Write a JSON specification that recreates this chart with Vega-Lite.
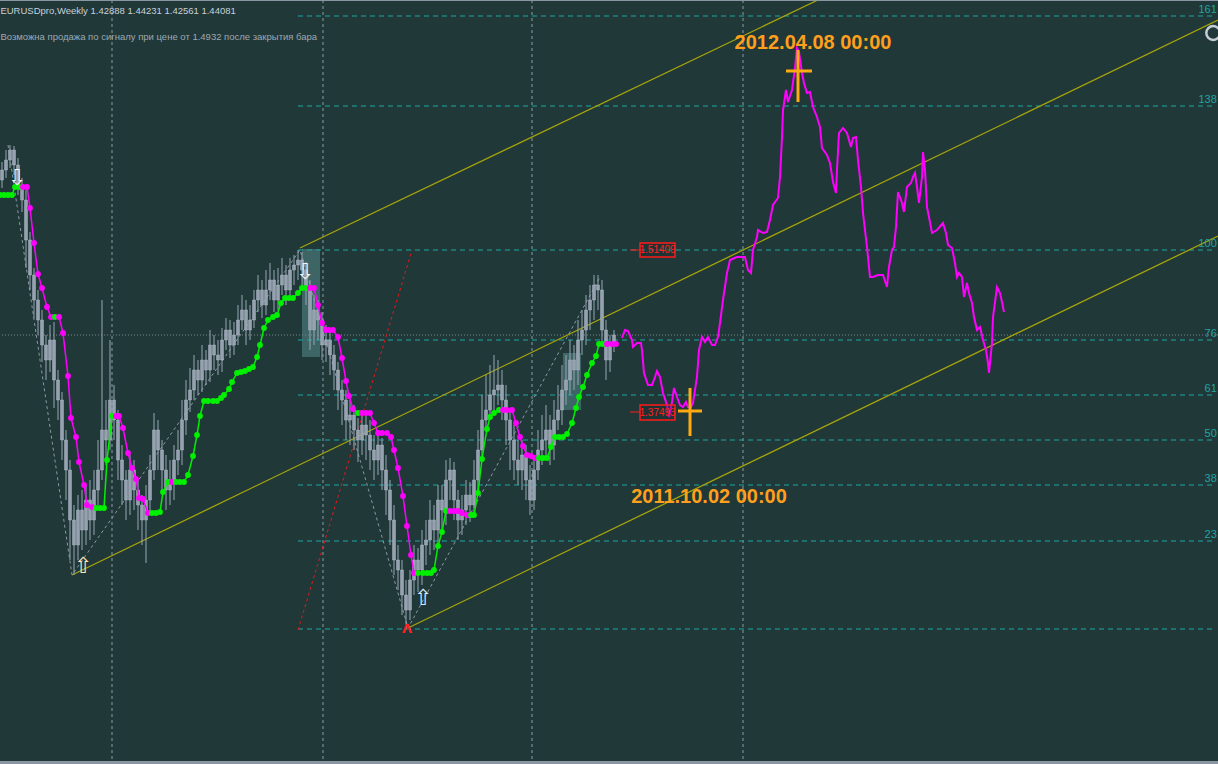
{
"$schema": "https://vega.github.io/schema/vega-lite/v6.json",
"width": 1218, "height": 764,
"autosize": {"type": "none"},
"padding": 0,
"background": "#203838",
"config": {"view": {"stroke": null}, "font": "Liberation Sans", "scale": {"continuousPadding": 0}},
"resolve": {"scale": {"color": "independent"}},
"datasets": {
"ind": [
{"w":0,"p":1.605,"t":"g","s":1},{"w":1,"p":1.605,"t":"g","s":1},{"w":2,"p":1.605,"t":"g","s":1},{"w":3,"p":1.605,"t":"g","s":1},{"w":3.75,"p":1.613,"t":"g","s":1},{"w":4.75,"p":1.613,"t":"g","s":1},
{"w":4.75,"p":1.613,"t":"m","s":2,"d":1},{"w":5.75,"p":1.613,"t":"m","s":2},{"w":6.75,"p":1.613,"t":"m","s":2},{"w":7.5,"p":1.592,"t":"m","s":2},{"w":8.5,"p":1.557,"t":"m","s":2},{"w":9.5,"p":1.526,"t":"m","s":2},{"w":10.5,"p":1.512,"t":"m","s":2},{"w":11.75,"p":1.493,"t":"m","s":2},{"w":12.75,"p":1.483,"t":"m","s":2},
{"w":12.75,"p":1.483,"t":"g","s":3,"d":1},{"w":13.75,"p":1.483,"t":"g","s":3},
{"w":13.75,"p":1.483,"t":"m","s":4,"d":1},{"w":14.75,"p":1.483,"t":"m","s":4},{"w":15.75,"p":1.467,"t":"m","s":4},{"w":17,"p":1.424,"t":"m","s":4},{"w":17.75,"p":1.382,"t":"m","s":4},{"w":19,"p":1.363,"t":"m","s":4},{"w":19.75,"p":1.338,"t":"m","s":4},{"w":21,"p":1.315,"t":"m","s":4},{"w":21.75,"p":1.295,"t":"m","s":4},{"w":23,"p":1.293,"t":"m","s":4},
{"w":23,"p":1.293,"t":"g","s":5,"d":1},{"w":24,"p":1.292,"t":"g","s":5},{"w":25,"p":1.292,"t":"g","s":5},{"w":26,"p":1.292,"t":"g","s":5},{"w":26.75,"p":1.34,"t":"g","s":5},{"w":28,"p":1.384,"t":"g","s":5},
{"w":28,"p":1.384,"t":"m","s":6,"d":1},{"w":29,"p":1.384,"t":"m","s":6},{"w":29.75,"p":1.384,"t":"m","s":6},{"w":30.75,"p":1.372,"t":"m","s":6},{"w":32,"p":1.347,"t":"m","s":6},{"w":33,"p":1.332,"t":"m","s":6},{"w":34,"p":1.321,"t":"m","s":6},{"w":34.75,"p":1.302,"t":"m","s":6},{"w":35.75,"p":1.301,"t":"m","s":6},{"w":37,"p":1.287,"t":"m","s":6},
{"w":37,"p":1.287,"t":"g","s":7,"d":1},{"w":38,"p":1.287,"t":"g","s":7},{"w":39,"p":1.287,"t":"g","s":7},{"w":40,"p":1.288,"t":"g","s":7},{"w":40.75,"p":1.308,"t":"g","s":7},{"w":42,"p":1.318,"t":"g","s":7},
{"w":42,"p":1.318,"t":"m","s":8,"d":1},{"w":43,"p":1.318,"t":"m","s":8},
{"w":43,"p":1.318,"t":"g","s":9,"d":1},{"w":44,"p":1.318,"t":"g","s":9},{"w":45,"p":1.318,"t":"g","s":9},{"w":46,"p":1.318,"t":"g","s":9},{"w":47,"p":1.325,"t":"g","s":9},{"w":48.25,"p":1.344,"t":"g","s":9},{"w":49.25,"p":1.365,"t":"g","s":9},{"w":50,"p":1.384,"t":"g","s":9},{"w":51,"p":1.399,"t":"g","s":9},{"w":52,"p":1.399,"t":"g","s":9},{"w":53.25,"p":1.399,"t":"g","s":9},{"w":54.25,"p":1.399,"t":"g","s":9},{"w":55.25,"p":1.402,"t":"g","s":9},{"w":56,"p":1.405,"t":"g","s":9},{"w":57.25,"p":1.411,"t":"g","s":9},{"w":58,"p":1.418,"t":"g","s":9},{"w":59.25,"p":1.427,"t":"g","s":9},{"w":60.25,"p":1.428,"t":"g","s":9},{"w":61.25,"p":1.429,"t":"g","s":9},{"w":62.25,"p":1.431,"t":"g","s":9},{"w":63.25,"p":1.433,"t":"g","s":9},{"w":64.25,"p":1.443,"t":"g","s":9},{"w":65,"p":1.455,"t":"g","s":9},{"w":66,"p":1.472,"t":"g","s":9},{"w":67,"p":1.48,"t":"g","s":9},{"w":68.25,"p":1.483,"t":"g","s":9},{"w":69.25,"p":1.485,"t":"g","s":9},{"w":70.25,"p":1.497,"t":"g","s":9},{"w":71.25,"p":1.502,"t":"g","s":9},{"w":72.25,"p":1.502,"t":"g","s":9},{"w":73.25,"p":1.502,"t":"g","s":9},{"w":74.5,"p":1.507,"t":"g","s":9},{"w":75.5,"p":1.512,"t":"g","s":9},{"w":76.5,"p":1.512,"t":"g","s":9},
{"w":76.5,"p":1.512,"t":"m","s":10,"d":1},{"w":77.5,"p":1.512,"t":"m","s":10},{"w":78.5,"p":1.512,"t":"m","s":10},{"w":79.5,"p":1.495,"t":"m","s":10},{"w":80.5,"p":1.477,"t":"m","s":10},{"w":81.5,"p":1.47,"t":"m","s":10},{"w":82.25,"p":1.47,"t":"m","s":10},{"w":83.25,"p":1.47,"t":"m","s":10},{"w":84.5,"p":1.463,"t":"m","s":10},{"w":85.5,"p":1.442,"t":"m","s":10},{"w":86.5,"p":1.419,"t":"m","s":10},{"w":87.25,"p":1.404,"t":"m","s":10},{"w":88.25,"p":1.391,"t":"m","s":10},
{"w":88.25,"p":1.391,"t":"g","s":11,"d":1},{"w":89.5,"p":1.387,"t":"g","s":11},
{"w":89.5,"p":1.387,"t":"m","s":12,"d":1},{"w":90.5,"p":1.387,"t":"m","s":12},{"w":91.5,"p":1.387,"t":"m","s":12},{"w":92.5,"p":1.387,"t":"m","s":12},{"w":93.5,"p":1.377,"t":"m","s":12},{"w":94.5,"p":1.367,"t":"m","s":12},{"w":95.5,"p":1.367,"t":"m","s":12},{"w":96.75,"p":1.367,"t":"m","s":12},{"w":97.75,"p":1.363,"t":"m","s":12},{"w":98.5,"p":1.35,"t":"m","s":12},{"w":99.5,"p":1.332,"t":"m","s":12},{"w":100.75,"p":1.304,"t":"m","s":12},{"w":101.75,"p":1.274,"t":"m","s":12},{"w":102.75,"p":1.245,"t":"m","s":12},{"w":103.5,"p":1.227,"t":"m","s":12},
{"w":103.5,"p":1.227,"t":"g","s":13,"d":1},{"w":104.5,"p":1.227,"t":"g","s":13},{"w":105.75,"p":1.227,"t":"g","s":13},{"w":106.75,"p":1.227,"t":"g","s":13},{"w":107.75,"p":1.227,"t":"g","s":13},{"w":108.5,"p":1.23,"t":"g","s":13},{"w":109.5,"p":1.254,"t":"g","s":13},{"w":110.5,"p":1.268,"t":"g","s":13},{"w":111.5,"p":1.289,"t":"g","s":13},
{"w":111.5,"p":1.289,"t":"m","s":14,"d":1},{"w":112.5,"p":1.289,"t":"m","s":14},{"w":113.5,"p":1.289,"t":"m","s":14},{"w":114.5,"p":1.289,"t":"m","s":14},{"w":115.5,"p":1.287,"t":"m","s":14},{"w":116.75,"p":1.285,"t":"m","s":14},
{"w":116.75,"p":1.285,"t":"g","s":15,"d":1},{"w":117.75,"p":1.285,"t":"g","s":15},{"w":118.5,"p":1.285,"t":"g","s":15},{"w":119.5,"p":1.307,"t":"g","s":15},{"w":120.5,"p":1.341,"t":"g","s":15},{"w":121.75,"p":1.371,"t":"g","s":15},{"w":122.5,"p":1.383,"t":"g","s":15},{"w":123.5,"p":1.387,"t":"g","s":15},{"w":124.75,"p":1.39,"t":"g","s":15},
{"w":124.75,"p":1.39,"t":"m","s":16,"d":1},{"w":125.75,"p":1.39,"t":"m","s":16},{"w":126.75,"p":1.39,"t":"m","s":16},{"w":128,"p":1.39,"t":"m","s":16},{"w":129,"p":1.377,"t":"m","s":16},{"w":130,"p":1.363,"t":"m","s":16},{"w":130.75,"p":1.354,"t":"m","s":16},{"w":131.75,"p":1.345,"t":"m","s":16},{"w":132.75,"p":1.344,"t":"m","s":16},{"w":133.75,"p":1.342,"t":"m","s":16},
{"w":133.75,"p":1.342,"t":"g","s":17,"d":1},{"w":134.75,"p":1.342,"t":"g","s":17},{"w":135.75,"p":1.342,"t":"g","s":17},{"w":136.75,"p":1.342,"t":"g","s":17},{"w":137.75,"p":1.353,"t":"g","s":17},{"w":138.75,"p":1.363,"t":"g","s":17},{"w":139.75,"p":1.363,"t":"g","s":17},{"w":140.75,"p":1.363,"t":"g","s":17},{"w":141.75,"p":1.366,"t":"g","s":17},{"w":143,"p":1.377,"t":"g","s":17},{"w":144,"p":1.392,"t":"g","s":17},{"w":144.75,"p":1.403,"t":"g","s":17},{"w":145.75,"p":1.413,"t":"g","s":17},{"w":146.75,"p":1.425,"t":"g","s":17},{"w":148,"p":1.437,"t":"g","s":17},{"w":149,"p":1.444,"t":"g","s":17},{"w":149.75,"p":1.456,"t":"g","s":17},{"w":150.75,"p":1.456,"t":"g","s":17},
{"w":150.75,"p":1.456,"t":"m","s":18,"d":1},{"w":151.75,"p":1.456,"t":"m","s":18},{"w":153,"p":1.456,"t":"m","s":18},{"w":154,"p":1.456,"t":"m","s":18}
]
},
"layer": [
{
"data": {"values": [{"w":75.5,"w2":80,"p":1.551,"p2":1.443},{"w":140.75,"w2":145.25,"p":1.447,"p2":1.39}]},
"mark": {"type": "rect", "fill": "#6aa4a4", "fillOpacity": 0.42},
"encoding": {
"x": {"field":"w","type":"quantitative","scale":{"domain":[0,304.5],"nice":false,"zero":false,"padding":0},"axis":null},
"x2": {"field":"w2"},
"y": {"field":"p","type":"quantitative","scale":{"domain":[1.036,1.8],"nice":false,"zero":false},"axis":null},
"y2": {"field":"p2"}
}
},
{
"data": {"values": [{"w":28},{"w":80.75},{"w":133},{"w":185.75}]},
"mark": {"type": "rule", "stroke": "#8a9aa8", "strokeWidth": 1, "strokeDash": [3,3]},
"encoding": {"x": {"field":"w","type":"quantitative","scale":{"domain":[0,304.5],"nice":false,"zero":false},"axis":null}}
},
{
"data": {"values": [{"w":74.5,"w2":303.75,"p":1.784},{"w":74.5,"w2":303.75,"p":1.694},{"w":74.5,"w2":303.75,"p":1.55},{"w":74.5,"w2":303.75,"p":1.46},{"w":74.5,"w2":303.75,"p":1.405},{"w":74.5,"w2":303.75,"p":1.36},{"w":74.5,"w2":303.75,"p":1.315},{"w":74.5,"w2":303.75,"p":1.259},{"w":74.5,"w2":303.75,"p":1.171}]},
"mark": {"type": "rule", "stroke": "#1ea6a6", "strokeWidth": 1, "strokeDash": [5,4]},
"encoding": {
"x": {"field":"w","type":"quantitative","scale":{"domain":[0,304.5],"nice":false,"zero":false},"axis":null},
"x2": {"field":"w2"},
"y": {"field":"p","type":"quantitative","scale":{"domain":[1.036,1.8],"nice":false,"zero":false},"axis":null}
}
},
{
"data": {"values": [{"p":1.465}]},
"mark": {"type": "rule", "stroke": "#7c868e", "strokeWidth": 1, "strokeDash": [1,2]},
"encoding": {"y": {"field":"p","type":"quantitative","scale":{"domain":[1.036,1.8],"nice":false,"zero":false},"axis":null}}
},
{
"data": {"values": [{"w":75,"p":1.552,"w2":204.5,"p2":1.8},{"w":18,"p":1.225,"w2":304.5,"p2":1.78},{"w":102,"p":1.172,"w2":304.5,"p2":1.564}]},
"mark": {"type": "rule", "stroke": "#a6a40c", "strokeWidth": 1.3, "clip": true},
"encoding": {
"x": {"field":"w","type":"quantitative","scale":{"domain":[0,304.5],"nice":false,"zero":false},"axis":null},
"x2": {"field":"w2"},
"y": {"field":"p","type":"quantitative","scale":{"domain":[1.036,1.8],"nice":false,"zero":false},"axis":null},
"y2": {"field":"p2"}
}
},
{
"data": {"values": [{"w":74.5,"p":1.17,"w2":103,"p2":1.55}]},
"mark": {"type": "rule", "stroke": "#e01a1a", "strokeWidth": 1, "strokeDash": [3,3]},
"encoding": {
"x": {"field":"w","type":"quantitative","scale":{"domain":[0,304.5],"nice":false,"zero":false},"axis":null},
"x2": {"field":"w2"},
"y": {"field":"p","type":"quantitative","scale":{"domain":[1.036,1.8],"nice":false,"zero":false},"axis":null},
"y2": {"field":"p2"}
}
},
{
"data": {"values": [{"w":2,"p":1.655},{"w":18,"p":1.225},{"w":75,"p":1.55},{"w":102,"p":1.172},{"w":150,"p":1.523}]},
"mark": {"type": "line", "stroke": "#8c98a4", "strokeWidth": 1, "strokeDash": [3,3]},
"encoding": {
"x": {"field":"w","type":"quantitative","scale":{"domain":[0,304.5],"nice":false,"zero":false},"axis":null},
"y": {"field":"p","type":"quantitative","scale":{"domain":[1.036,1.8],"nice":false,"zero":false},"axis":null}
}
},
{
"data": {"values": [
{"w":0.5,"o":1.62,"c":1.63,"h":1.638,"l":1.612},
{"w":1.5,"o":1.63,"c":1.64,"h":1.65,"l":1.622},
{"w":2.5,"o":1.64,"c":1.65,"h":1.655,"l":1.632},
{"w":3.5,"o":1.65,"c":1.635,"h":1.654,"l":1.625},
{"w":4.5,"o":1.635,"c":1.615,"h":1.642,"l":1.605},
{"w":5.5,"o":1.615,"c":1.6,"h":1.622,"l":1.588},
{"w":6.5,"o":1.6,"c":1.56,"h":1.61,"l":1.532},
{"w":7.5,"o":1.56,"c":1.525,"h":1.568,"l":1.51},
{"w":8.5,"o":1.525,"c":1.5,"h":1.532,"l":1.482},
{"w":9.5,"o":1.5,"c":1.48,"h":1.51,"l":1.465},
{"w":10.5,"o":1.48,"c":1.455,"h":1.49,"l":1.438},
{"w":11.5,"o":1.455,"c":1.44,"h":1.465,"l":1.42},
{"w":12.5,"o":1.44,"c":1.46,"h":1.475,"l":1.428},
{"w":13.5,"o":1.46,"c":1.42,"h":1.478,"l":1.392},
{"w":14.5,"o":1.42,"c":1.4,"h":1.43,"l":1.38},
{"w":15.5,"o":1.4,"c":1.36,"h":1.408,"l":1.34},
{"w":16.5,"o":1.36,"c":1.33,"h":1.37,"l":1.3},
{"w":17.5,"o":1.33,"c":1.28,"h":1.34,"l":1.24},
{"w":18.5,"o":1.28,"c":1.255,"h":1.295,"l":1.225},
{"w":19.5,"o":1.255,"c":1.29,"h":1.305,"l":1.24},
{"w":20.5,"o":1.29,"c":1.27,"h":1.31,"l":1.25},
{"w":21.5,"o":1.27,"c":1.3,"h":1.315,"l":1.255},
{"w":22.5,"o":1.3,"c":1.28,"h":1.32,"l":1.26},
{"w":23.5,"o":1.28,"c":1.31,"h":1.33,"l":1.265},
{"w":24.5,"o":1.31,"c":1.33,"h":1.36,"l":1.295},
{"w":25.5,"o":1.33,"c":1.37,"h":1.5,"l":1.32},
{"w":26.5,"o":1.37,"c":1.36,"h":1.4,"l":1.335},
{"w":27.5,"o":1.36,"c":1.4,"h":1.46,"l":1.35},
{"w":28.5,"o":1.4,"c":1.38,"h":1.415,"l":1.36},
{"w":29.5,"o":1.38,"c":1.34,"h":1.39,"l":1.32},
{"w":30.5,"o":1.34,"c":1.32,"h":1.355,"l":1.295},
{"w":31.5,"o":1.32,"c":1.3,"h":1.33,"l":1.28},
{"w":32.5,"o":1.3,"c":1.33,"h":1.345,"l":1.285},
{"w":33.5,"o":1.33,"c":1.31,"h":1.34,"l":1.29},
{"w":34.5,"o":1.31,"c":1.295,"h":1.32,"l":1.27},
{"w":35.5,"o":1.295,"c":1.28,"h":1.305,"l":1.255},
{"w":36.5,"o":1.28,"c":1.3,"h":1.315,"l":1.237},
{"w":37.5,"o":1.3,"c":1.33,"h":1.345,"l":1.285},
{"w":38.5,"o":1.33,"c":1.37,"h":1.387,"l":1.32},
{"w":39.5,"o":1.37,"c":1.35,"h":1.38,"l":1.33},
{"w":40.5,"o":1.35,"c":1.33,"h":1.36,"l":1.31},
{"w":41.5,"o":1.33,"c":1.31,"h":1.345,"l":1.29},
{"w":42.5,"o":1.31,"c":1.32,"h":1.34,"l":1.295},
{"w":43.5,"o":1.32,"c":1.34,"h":1.355,"l":1.3},
{"w":44.5,"o":1.34,"c":1.35,"h":1.37,"l":1.325},
{"w":45.5,"o":1.35,"c":1.38,"h":1.4,"l":1.335},
{"w":46.5,"o":1.38,"c":1.4,"h":1.42,"l":1.365},
{"w":47.5,"o":1.4,"c":1.41,"h":1.432,"l":1.388},
{"w":48.5,"o":1.41,"c":1.43,"h":1.445,"l":1.4},
{"w":49.5,"o":1.43,"c":1.42,"h":1.44,"l":1.405},
{"w":50.5,"o":1.42,"c":1.44,"h":1.455,"l":1.408},
{"w":51.5,"o":1.44,"c":1.43,"h":1.45,"l":1.415},
{"w":52.5,"o":1.43,"c":1.455,"h":1.47,"l":1.418},
{"w":53.5,"o":1.455,"c":1.445,"h":1.465,"l":1.43},
{"w":54.5,"o":1.445,"c":1.44,"h":1.46,"l":1.425},
{"w":55.5,"o":1.44,"c":1.46,"h":1.472,"l":1.428},
{"w":56.5,"o":1.46,"c":1.47,"h":1.482,"l":1.45},
{"w":57.5,"o":1.47,"c":1.455,"h":1.48,"l":1.442},
{"w":58.5,"o":1.455,"c":1.465,"h":1.478,"l":1.445},
{"w":59.5,"o":1.465,"c":1.48,"h":1.495,"l":1.455},
{"w":60.5,"o":1.48,"c":1.49,"h":1.505,"l":1.47},
{"w":61.5,"o":1.49,"c":1.47,"h":1.5,"l":1.455},
{"w":62.5,"o":1.47,"c":1.48,"h":1.495,"l":1.46},
{"w":63.5,"o":1.48,"c":1.5,"h":1.51,"l":1.472},
{"w":64.5,"o":1.5,"c":1.51,"h":1.525,"l":1.488},
{"w":65.5,"o":1.51,"c":1.495,"h":1.52,"l":1.482},
{"w":66.5,"o":1.495,"c":1.51,"h":1.53,"l":1.485},
{"w":67.5,"o":1.51,"c":1.52,"h":1.537,"l":1.5},
{"w":68.5,"o":1.52,"c":1.5,"h":1.53,"l":1.488},
{"w":69.5,"o":1.5,"c":1.515,"h":1.532,"l":1.49},
{"w":70.5,"o":1.515,"c":1.525,"h":1.542,"l":1.505},
{"w":71.5,"o":1.525,"c":1.51,"h":1.535,"l":1.495},
{"w":72.5,"o":1.51,"c":1.53,"h":1.542,"l":1.5},
{"w":73.5,"o":1.53,"c":1.535,"h":1.545,"l":1.515},
{"w":74.5,"o":1.535,"c":1.54,"h":1.55,"l":1.52},
{"w":75.5,"o":1.54,"c":1.53,"h":1.548,"l":1.51},
{"w":76.5,"o":1.53,"c":1.51,"h":1.538,"l":1.495},
{"w":77.5,"o":1.51,"c":1.47,"h":1.52,"l":1.45},
{"w":78.5,"o":1.47,"c":1.49,"h":1.505,"l":1.455},
{"w":79.5,"o":1.49,"c":1.48,"h":1.5,"l":1.46},
{"w":80.5,"o":1.48,"c":1.455,"h":1.488,"l":1.44},
{"w":81.5,"o":1.455,"c":1.46,"h":1.475,"l":1.438},
{"w":82.5,"o":1.46,"c":1.445,"h":1.47,"l":1.425},
{"w":83.5,"o":1.445,"c":1.43,"h":1.455,"l":1.41},
{"w":84.5,"o":1.43,"c":1.41,"h":1.438,"l":1.39},
{"w":85.5,"o":1.41,"c":1.4,"h":1.42,"l":1.375},
{"w":86.5,"o":1.4,"c":1.38,"h":1.41,"l":1.36},
{"w":87.5,"o":1.38,"c":1.385,"h":1.4,"l":1.355},
{"w":88.5,"o":1.385,"c":1.37,"h":1.395,"l":1.35},
{"w":89.5,"o":1.37,"c":1.36,"h":1.382,"l":1.338},
{"w":90.5,"o":1.36,"c":1.375,"h":1.39,"l":1.345},
{"w":91.5,"o":1.375,"c":1.365,"h":1.385,"l":1.34},
{"w":92.5,"o":1.365,"c":1.35,"h":1.38,"l":1.33},
{"w":93.5,"o":1.35,"c":1.34,"h":1.365,"l":1.32},
{"w":94.5,"o":1.34,"c":1.355,"h":1.37,"l":1.325},
{"w":95.5,"o":1.355,"c":1.33,"h":1.362,"l":1.31},
{"w":96.5,"o":1.33,"c":1.31,"h":1.345,"l":1.285},
{"w":97.5,"o":1.31,"c":1.28,"h":1.32,"l":1.255},
{"w":98.5,"o":1.28,"c":1.24,"h":1.295,"l":1.225},
{"w":99.5,"o":1.24,"c":1.23,"h":1.255,"l":1.21},
{"w":100.5,"o":1.23,"c":1.205,"h":1.24,"l":1.185},
{"w":101.5,"o":1.205,"c":1.19,"h":1.22,"l":1.172},
{"w":102.5,"o":1.19,"c":1.22,"h":1.23,"l":1.18},
{"w":103.5,"o":1.22,"c":1.24,"h":1.255,"l":1.205},
{"w":104.5,"o":1.24,"c":1.23,"h":1.252,"l":1.208},
{"w":105.5,"o":1.23,"c":1.255,"h":1.27,"l":1.215},
{"w":106.5,"o":1.255,"c":1.26,"h":1.28,"l":1.235},
{"w":107.5,"o":1.26,"c":1.28,"h":1.3,"l":1.245},
{"w":108.5,"o":1.28,"c":1.27,"h":1.295,"l":1.25},
{"w":109.5,"o":1.27,"c":1.3,"h":1.315,"l":1.255},
{"w":110.5,"o":1.3,"c":1.29,"h":1.315,"l":1.27},
{"w":111.5,"o":1.29,"c":1.32,"h":1.34,"l":1.275},
{"w":112.5,"o":1.32,"c":1.33,"h":1.342,"l":1.3},
{"w":113.5,"o":1.33,"c":1.3,"h":1.338,"l":1.28},
{"w":114.5,"o":1.3,"c":1.28,"h":1.31,"l":1.26},
{"w":115.5,"o":1.28,"c":1.29,"h":1.305,"l":1.265},
{"w":116.5,"o":1.29,"c":1.305,"h":1.32,"l":1.275},
{"w":117.5,"o":1.305,"c":1.295,"h":1.318,"l":1.278},
{"w":118.5,"o":1.295,"c":1.32,"h":1.34,"l":1.285},
{"w":119.5,"o":1.32,"c":1.35,"h":1.37,"l":1.305},
{"w":120.5,"o":1.35,"c":1.38,"h":1.405,"l":1.34},
{"w":121.5,"o":1.38,"c":1.39,"h":1.425,"l":1.37},
{"w":122.5,"o":1.39,"c":1.405,"h":1.435,"l":1.38},
{"w":123.5,"o":1.405,"c":1.41,"h":1.445,"l":1.39},
{"w":124.5,"o":1.41,"c":1.415,"h":1.44,"l":1.395},
{"w":125.5,"o":1.415,"c":1.4,"h":1.43,"l":1.38},
{"w":126.5,"o":1.4,"c":1.38,"h":1.415,"l":1.355},
{"w":127.5,"o":1.38,"c":1.36,"h":1.39,"l":1.33},
{"w":128.5,"o":1.36,"c":1.34,"h":1.375,"l":1.32},
{"w":129.5,"o":1.34,"c":1.33,"h":1.36,"l":1.315},
{"w":130.5,"o":1.33,"c":1.345,"h":1.36,"l":1.31},
{"w":131.5,"o":1.345,"c":1.32,"h":1.355,"l":1.3},
{"w":132.5,"o":1.32,"c":1.3,"h":1.335,"l":1.285},
{"w":133.5,"o":1.3,"c":1.33,"h":1.345,"l":1.29},
{"w":134.5,"o":1.33,"c":1.35,"h":1.37,"l":1.32},
{"w":135.5,"o":1.35,"c":1.36,"h":1.385,"l":1.335},
{"w":136.5,"o":1.36,"c":1.37,"h":1.395,"l":1.34},
{"w":137.5,"o":1.37,"c":1.355,"h":1.385,"l":1.335},
{"w":138.5,"o":1.355,"c":1.38,"h":1.4,"l":1.34},
{"w":139.5,"o":1.38,"c":1.39,"h":1.415,"l":1.37},
{"w":140.5,"o":1.39,"c":1.41,"h":1.435,"l":1.375},
{"w":141.5,"o":1.41,"c":1.42,"h":1.445,"l":1.395},
{"w":142.5,"o":1.42,"c":1.44,"h":1.46,"l":1.405},
{"w":143.5,"o":1.44,"c":1.43,"h":1.455,"l":1.41},
{"w":144.5,"o":1.43,"c":1.46,"h":1.48,"l":1.415},
{"w":145.5,"o":1.46,"c":1.47,"h":1.49,"l":1.445},
{"w":146.5,"o":1.47,"c":1.49,"h":1.505,"l":1.455},
{"w":147.5,"o":1.49,"c":1.5,"h":1.515,"l":1.47},
{"w":148.5,"o":1.5,"c":1.515,"h":1.525,"l":1.48},
{"w":149.5,"o":1.515,"c":1.51,"h":1.525,"l":1.49},
{"w":150.5,"o":1.51,"c":1.47,"h":1.52,"l":1.455},
{"w":151.5,"o":1.47,"c":1.44,"h":1.48,"l":1.42},
{"w":152.5,"o":1.44,"c":1.455,"h":1.465,"l":1.428},
{"w":153.5,"o":1.455,"c":1.465,"h":1.47,"l":1.448}
]},
"layer": [
{"mark": {"type": "rule", "stroke": "#9aa6b4", "strokeWidth": 1},
 "encoding": {
 "x": {"field":"w","type":"quantitative","scale":{"domain":[0,304.5],"nice":false,"zero":false},"axis":null},
 "y": {"field":"l","type":"quantitative","scale":{"domain":[1.036,1.8],"nice":false,"zero":false},"axis":null},
 "y2": {"field":"h"}}},
{"mark": {"type": "bar", "size": 3, "fill": "#96a2b0", "stroke": "#a8b4c2", "strokeWidth": 0.5},
 "encoding": {
 "x": {"field":"w","type":"quantitative","scale":{"domain":[0,304.5],"nice":false,"zero":false,"padding":0},"axis":null},
 "y": {"field":"o","type":"quantitative","scale":{"domain":[1.036,1.8],"nice":false,"zero":false},"axis":null},
 "y2": {"field":"c"}}}
]
},
{
"data": {"name": "ind"},
"mark": {"type": "line", "strokeWidth": 1.5},
"encoding": {
"x": {"field":"w","type":"quantitative","scale":{"domain":[0,304.5],"nice":false,"zero":false},"axis":null},
"y": {"field":"p","type":"quantitative","scale":{"domain":[1.036,1.8],"nice":false,"zero":false},"axis":null},
"color": {"field":"t","type":"nominal","scale":{"domain":["g","m"],"range":["#00f000","#ff00ff"]},"legend":null},
"detail": {"field":"s","type":"nominal"}
}
},
{
"data": {"name": "ind"},
"transform": [{"filter": "datum.d !== 1"}],
"mark": {"type": "point", "filled": true, "shape": "circle", "size": 34, "opacity": 1},
"encoding": {
"x": {"field":"w","type":"quantitative","scale":{"domain":[0,304.5],"nice":false,"zero":false},"axis":null},
"y": {"field":"p","type":"quantitative","scale":{"domain":[1.036,1.8],"nice":false,"zero":false},"axis":null},
"color": {"field":"t","type":"nominal","scale":{"domain":["g","m"],"range":["#00f000","#ff00ff"]},"legend":null}
}
},
{
"data": {"values": [
{"w":155.5,"p":1.462},{"w":156.25,"p":1.47},{"w":157,"p":1.469},{"w":158,"p":1.46},{"w":158.25,"p":1.453},{"w":159.25,"p":1.457},{"w":160.25,"p":1.457},{"w":160.5,"p":1.45},{"w":161,"p":1.427},{"w":162,"p":1.415},{"w":163,"p":1.415},{"w":163.75,"p":1.423},{"w":164.25,"p":1.429},{"w":165,"p":1.423},{"w":165.75,"p":1.407},{"w":166.75,"p":1.395},{"w":167.25,"p":1.383},{"w":168,"p":1.398},{"w":168.5,"p":1.412},{"w":169.25,"p":1.403},{"w":170,"p":1.395},{"w":170.75,"p":1.393},{"w":171.5,"p":1.398},{"w":172,"p":1.393},{"w":172.75,"p":1.393},{"w":173.25,"p":1.397},{"w":174.25,"p":1.423},{"w":174.75,"p":1.45},{"w":175.5,"p":1.463},{"w":176.25,"p":1.458},{"w":177,"p":1.463},{"w":178,"p":1.455},{"w":178.75,"p":1.455},{"w":179.5,"p":1.463},{"w":180,"p":1.477},{"w":180.75,"p":1.5},{"w":181.75,"p":1.527},{"w":182.5,"p":1.54},{"w":184.25,"p":1.543},{"w":186.25,"p":1.543},{"w":187,"p":1.53},{"w":187.75,"p":1.527},{"w":188.25,"p":1.55},{"w":189.25,"p":1.563},{"w":189.5,"p":1.57},{"w":190.75,"p":1.567},{"w":191.75,"p":1.568},{"w":192.5,"p":1.58},{"w":193.25,"p":1.595},{"w":194.5,"p":1.602},{"w":195,"p":1.623},{"w":195.5,"p":1.663},{"w":195.75,"p":1.69},{"w":196.5,"p":1.71},{"w":197,"p":1.698},{"w":198,"p":1.71},{"w":198.75,"p":1.732},{"w":199.25,"p":1.752},{"w":199.75,"p":1.748},{"w":200.5,"p":1.727},{"w":201,"p":1.717},{"w":201.75,"p":1.707},{"w":202.5,"p":1.708},{"w":203.25,"p":1.693},{"w":204.25,"p":1.683},{"w":205,"p":1.673},{"w":205.5,"p":1.652},{"w":206.75,"p":1.645},{"w":207.5,"p":1.637},{"w":208.25,"p":1.618},{"w":209,"p":1.607},{"w":209.25,"p":1.63},{"w":209.75,"p":1.667},{"w":210.75,"p":1.672},{"w":211.75,"p":1.667},{"w":212.75,"p":1.653},{"w":213.25,"p":1.662},{"w":214,"p":1.663},{"w":214.5,"p":1.64},{"w":215.25,"p":1.613},{"w":215.75,"p":1.587},{"w":216.25,"p":1.57},{"w":216.75,"p":1.553},{"w":217.5,"p":1.523},{"w":218.25,"p":1.523},{"w":219.5,"p":1.525},{"w":220.75,"p":1.525},{"w":221.75,"p":1.513},{"w":222.25,"p":1.533},{"w":223,"p":1.55},{"w":223.5,"p":1.553},{"w":224,"p":1.573},{"w":224.5,"p":1.608},{"w":225.5,"p":1.597},{"w":226,"p":1.588},{"w":226.75,"p":1.613},{"w":227.75,"p":1.617},{"w":228.25,"p":1.623},{"w":228.75,"p":1.627},{"w":229.25,"p":1.613},{"w":229.75,"p":1.597},{"w":230.5,"p":1.623},{"w":230.75,"p":1.648},{"w":231.25,"p":1.63},{"w":231.75,"p":1.593},{"w":232.25,"p":1.583},{"w":233,"p":1.567},{"w":234.25,"p":1.57},{"w":235.75,"p":1.577},{"w":236.5,"p":1.567},{"w":237,"p":1.555},{"w":238,"p":1.552},{"w":238.75,"p":1.537},{"w":239.25,"p":1.523},{"w":239.75,"p":1.527},{"w":240.5,"p":1.523},{"w":241,"p":1.503},{"w":241.75,"p":1.517},{"w":242.25,"p":1.507},{"w":243,"p":1.497},{"w":243.5,"p":1.483},{"w":244.25,"p":1.47},{"w":245,"p":1.473},{"w":245.75,"p":1.46},{"w":246.5,"p":1.45},{"w":247,"p":1.437},{"w":247.25,"p":1.427},{"w":248,"p":1.457},{"w":248.25,"p":1.483},{"w":249.25,"p":1.513},{"w":250,"p":1.507},{"w":250.5,"p":1.498},{"w":251,"p":1.488}
]},
"mark": {"type": "line", "stroke": "#ff00ff", "strokeWidth": 2},
"encoding": {
"x": {"field":"w","type":"quantitative","scale":{"domain":[0,304.5],"nice":false,"zero":false},"axis":null},
"y": {"field":"p","type":"quantitative","scale":{"domain":[1.036,1.8],"nice":false,"zero":false},"axis":null}
}
},
{
"data": {"values": [{"w":157.5,"w2":160,"p":1.55},{"w":157.5,"w2":160,"p":1.388}]},
"mark": {"type": "rule", "stroke": "#ff1a1a", "strokeWidth": 1},
"encoding": {
"x": {"field":"w","type":"quantitative","scale":{"domain":[0,304.5],"nice":false,"zero":false},"axis":null},
"x2": {"field":"w2"},
"y": {"field":"p","type":"quantitative","scale":{"domain":[1.036,1.8],"nice":false,"zero":false},"axis":null}
}
},
{
"data": {"values": [{"w":160,"w2":168.75,"p":1.557,"p2":1.543},{"w":160,"w2":168.75,"p":1.395,"p2":1.38}]},
"mark": {"type": "rect", "fill": "#1c2a2a", "fillOpacity": 0.3, "stroke": "#ff1a1a", "strokeWidth": 1.5},
"encoding": {
"x": {"field":"w","type":"quantitative","scale":{"domain":[0,304.5],"nice":false,"zero":false},"axis":null},
"x2": {"field":"w2"},
"y": {"field":"p","type":"quantitative","scale":{"domain":[1.036,1.8],"nice":false,"zero":false},"axis":null},
"y2": {"field":"p2"}
}
},
{
"data": {"values": [{"w":164.4,"p":1.55,"lab":"1.51409"},{"w":164.4,"p":1.3875,"lab":"1.37493"}]},
"mark": {"type": "text", "color": "#ff2020", "fontSize": 10, "align": "center", "baseline": "middle"},
"encoding": {
"x": {"field":"w","type":"quantitative","scale":{"domain":[0,304.5],"nice":false,"zero":false},"axis":null},
"y": {"field":"p","type":"quantitative","scale":{"domain":[1.036,1.8],"nice":false,"zero":false},"axis":null},
"text": {"field":"lab"}
}
},
{
"data": {"values": [{"w":199.5,"w2":199.5,"p":1.75,"p2":1.698},{"w":196.5,"w2":203,"p":1.729,"p2":1.729},{"w":172.5,"w2":172.5,"p":1.412,"p2":1.364},{"w":169.5,"w2":175.5,"p":1.389,"p2":1.389}]},
"mark": {"type": "rule", "stroke": "#ffaa10", "strokeWidth": 3},
"encoding": {
"x": {"field":"w","type":"quantitative","scale":{"domain":[0,304.5],"nice":false,"zero":false},"axis":null},
"x2": {"field":"w2"},
"y": {"field":"p","type":"quantitative","scale":{"domain":[1.036,1.8],"nice":false,"zero":false},"axis":null},
"y2": {"field":"p2"}
}
},
{
"data": {"values": [{"w":203.25,"p":1.757,"lab":"2012.04.08 00:00"},{"w":177.25,"p":1.303,"lab":"2011.10.02 00:00"}]},
"mark": {"type": "text", "color": "#ff9f1c", "fontSize": 20, "fontWeight": "bold", "font": "Liberation Sans", "align": "center", "baseline": "middle"},
"encoding": {
"x": {"field":"w","type":"quantitative","scale":{"domain":[0,304.5],"nice":false,"zero":false},"axis":null},
"y": {"field":"p","type":"quantitative","scale":{"domain":[1.036,1.8],"nice":false,"zero":false},"axis":null},
"text": {"field":"lab"}
}
},
{
"data": {"values": [{"w":4.25,"p":1.622,"k":"sell","g":"⇩"},{"w":76.25,"p":1.528,"k":"sell","g":"⇩"},{"w":20.75,"p":1.234,"k":"buy","g":"⇧"},{"w":105.75,"p":1.202,"k":"buy2","g":"⇧"}]},
"mark": {"type": "text", "fontSize": 22, "font": "DejaVu Sans", "align": "center", "baseline": "middle"},
"encoding": {
"x": {"field":"w","type":"quantitative","scale":{"domain":[0,304.5],"nice":false,"zero":false},"axis":null},
"y": {"field":"p","type":"quantitative","scale":{"domain":[1.036,1.8],"nice":false,"zero":false},"axis":null},
"text": {"field":"g"},
"color": {"field":"k","type":"nominal","scale":{"domain":["sell","buy","buy2"],"range":["#f4f4f4","#ffe4b8","#d8ecff"]},"legend":null}
}
},
{
"data": {"values": [{"w":101.75,"p":1.171}]},
"mark": {"type": "text", "text": "Λ", "fontSize": 13, "font": "DejaVu Sans", "fontWeight": "bold", "color": "#ff2020", "align": "center", "baseline": "middle"},
"encoding": {
"x": {"field":"w","type":"quantitative","scale":{"domain":[0,304.5],"nice":false,"zero":false},"axis":null},
"y": {"field":"p","type":"quantitative","scale":{"domain":[1.036,1.8],"nice":false,"zero":false},"axis":null}
}
},
{
"data": {"values": [{"w":304.2,"p":1.784,"lab":"161"},{"w":304.2,"p":1.694,"lab":"138"},{"w":304.2,"p":1.55,"lab":"100"},{"w":304.2,"p":1.46,"lab":"76"},{"w":304.2,"p":1.405,"lab":"61"},{"w":304.2,"p":1.36,"lab":"50"},{"w":304.2,"p":1.315,"lab":"38"},{"w":304.2,"p":1.259,"lab":"23"}]},
"mark": {"type": "text", "color": "#1fa5a5", "fontSize": 11, "align": "right", "baseline": "bottom", "dy": -1},
"encoding": {
"x": {"field":"w","type":"quantitative","scale":{"domain":[0,304.5],"nice":false,"zero":false},"axis":null},
"y": {"field":"p","type":"quantitative","scale":{"domain":[1.036,1.8],"nice":false,"zero":false},"axis":null},
"text": {"field":"lab"}
}
},
{
"data": {"values": [{"w":0.1,"p":1.789,"k":"h","lab":"EURUSDpro,Weekly  1.42888 1.44231 1.42561 1.44081"},{"w":0.1,"p":1.763,"k":"s","lab":"Возможна продажа по сигналу при цене от 1.4932 после закрытия бара"}]},
"mark": {"type": "text", "fontSize": 9.5, "font": "Liberation Sans", "align": "left", "baseline": "middle"},
"encoding": {
"x": {"field":"w","type":"quantitative","scale":{"domain":[0,304.5],"nice":false,"zero":false},"axis":null},
"y": {"field":"p","type":"quantitative","scale":{"domain":[1.036,1.8],"nice":false,"zero":false},"axis":null},
"text": {"field":"lab"},
"color": {"field":"k","type":"nominal","scale":{"domain":["h","s"],"range":["#c8d0d8","#9ea8b2"]},"legend":null}
}
},
{
"data": {"values": [{"w":303.3,"p":1.767}]},
"mark": {"type": "point", "shape": "circle", "filled": false, "size": 190, "stroke": "#c4ccd4", "strokeWidth": 2.5, "opacity": 1},
"encoding": {
"x": {"field":"w","type":"quantitative","scale":{"domain":[0,304.5],"nice":false,"zero":false},"axis":null},
"y": {"field":"p","type":"quantitative","scale":{"domain":[1.036,1.8],"nice":false,"zero":false},"axis":null}
}
},
{
"data": {"values": [{"p":1.7995}]},
"mark": {"type": "rule", "stroke": "#8a96a2", "strokeWidth": 1},
"encoding": {"y": {"field":"p","type":"quantitative","scale":{"domain":[1.036,1.8],"nice":false,"zero":false},"axis":null}}
},
{
"data": {"values": [{"p":1.0375}]},
"mark": {"type": "rule", "stroke": "#8a96a2", "strokeWidth": 3},
"encoding": {"y": {"field":"p","type":"quantitative","scale":{"domain":[1.036,1.8],"nice":false,"zero":false},"axis":null}}
}
]
}
